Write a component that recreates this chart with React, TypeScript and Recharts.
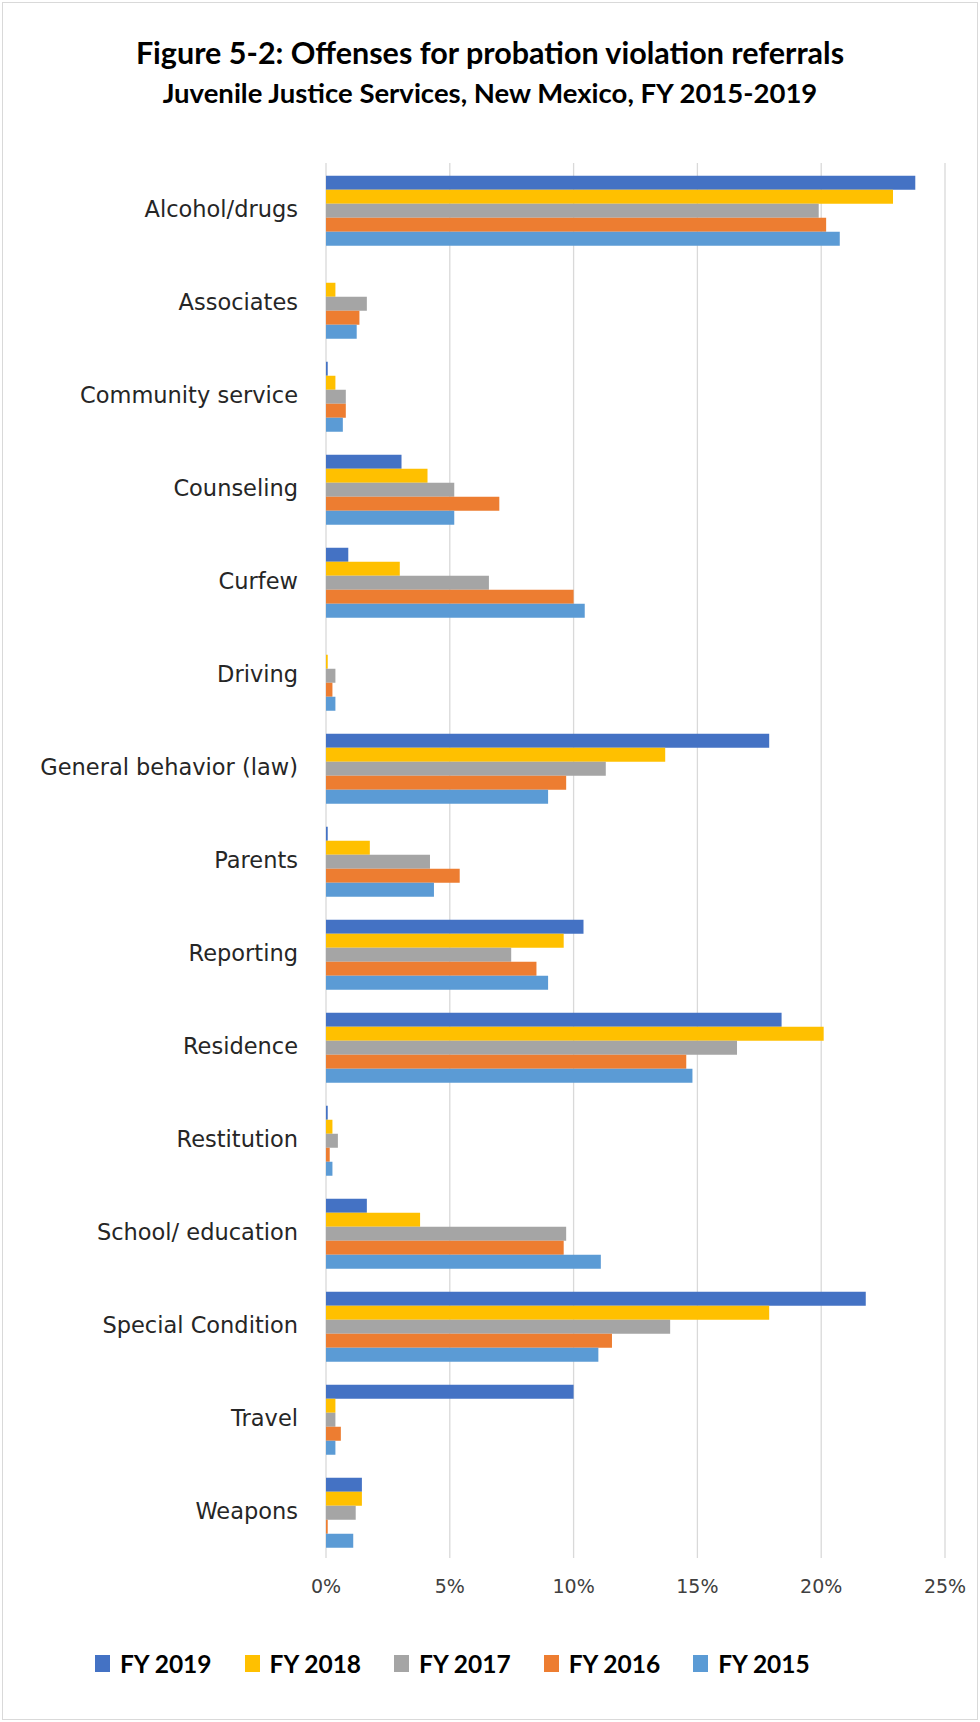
import React from "react";
import { Bar, BarChart, CartesianGrid, XAxis, YAxis } from "recharts";

// Offense categories, top to bottom
const categories = [
  "Alcohol/drugs",
  "Associates",
  "Community service",
  "Counseling",
  "Curfew",
  "Driving",
  "General behavior (law)",
  "Parents",
  "Reporting",
  "Residence",
  "Restitution",
  "School/ education",
  "Special Condition",
  "Travel",
  "Weapons",
];

// share of referrals, in percent
const fy2019 = [23.8, 0, 0.07, 3.05, 0.9, 0, 17.9, 0.07, 10.4, 18.4, 0.07, 1.65, 21.8, 10.0, 1.45];
const fy2018 = [22.9, 0.38, 0.38, 4.1, 2.98, 0.07, 13.7, 1.77, 9.6, 20.1, 0.26, 3.8, 17.9, 0.38, 1.45];
const fy2017 = [19.9, 1.65, 0.8, 5.18, 6.58, 0.38, 11.3, 4.2, 7.48, 16.6, 0.48, 9.7, 13.9, 0.38, 1.2];
const fy2016 = [20.2, 1.35, 0.8, 7.0, 10.0, 0.26, 9.7, 5.4, 8.5, 14.55, 0.15, 9.6, 11.55, 0.6, 0.07];
const fy2015 = [20.75, 1.24, 0.68, 5.18, 10.45, 0.38, 8.97, 4.36, 8.97, 14.8, 0.26, 11.1, 11.0, 0.38, 1.1];

const xTicks = [0, 5, 10, 15, 20, 25];

const series = [
  { key: "fy2019", name: "FY 2019", color: "#4472C4", values: fy2019 },
  { key: "fy2018", name: "FY 2018", color: "#FFC000", values: fy2018 },
  { key: "fy2017", name: "FY 2017", color: "#A5A5A5", values: fy2017 },
  { key: "fy2016", name: "FY 2016", color: "#ED7D31", values: fy2016 },
  { key: "fy2015", name: "FY 2015", color: "#5B9BD5", values: fy2015 },
];

const chartData = categories.map((name, i) => {
  const row: Record<string, string | number> = { name };
  series.forEach((s) => {
    row[s.key] = s.values[i];
  });
  return row;
});

export default function App() {
  return (
    <div
      style={{
        position: "absolute",
        left: 0,
        top: 0,
        width: 980,
        height: 1722,
        background: "#fff",
        fontFamily: "Lato, sans-serif",
      }}
    >
      <div
        style={{
          position: "absolute",
          left: 2,
          top: 2,
          width: 974,
          height: 1716,
          border: "1px solid #d9d9d9",
        }}
      />
      <div
        style={{
          position: "absolute",
          top: 34,
          width: 980,
          textAlign: "center",
          fontWeight: 700,
          fontSize: 30.5,
          lineHeight: 1.2,
          color: "#000",
        }}
      >
        Figure 5-2: Offenses for probation violation referrals
      </div>
      <div
        style={{
          position: "absolute",
          top: 76,
          width: 980,
          textAlign: "center",
          fontWeight: 700,
          fontSize: 27.5,
          lineHeight: 1.2,
          color: "#000",
        }}
      >
        Juvenile Justice Services, New Mexico, FY 2015-2019
      </div>

      <div style={{ position: "absolute", left: 0, top: 0 }}>
        <BarChart
          width={980}
          height={1722}
          data={chartData}
          layout="vertical"
          margin={{ top: 163, right: 35, bottom: 134, left: 0 }}
          barCategoryGap={12.75}
          barGap={0}
        >
          <CartesianGrid horizontal={false} stroke="#d9d9d9" strokeWidth={1.3} />
          <XAxis
            type="number"
            domain={[0, 25]}
            ticks={xTicks}
            tickFormatter={(v: number) => `${v}%`}
            axisLine={false}
            tickLine={false}
            tickSize={0}
            tickMargin={22}
            height={30}
            tick={{ fontSize: 19, fill: "#404040", fontFamily: "DejaVu Sans" }}
          />
          <YAxis
            type="category"
            dataKey="name"
            width={326}
            axisLine={false}
            tickLine={false}
            tickSize={0}
            tickMargin={28}
            interval={0}
            tick={{ fontSize: 22.5, fill: "#262626", fontFamily: "DejaVu Sans" }}
          />
          {series.map((s) => (
            <Bar
              key={s.key}
              dataKey={s.key}
              name={s.name}
              fill={s.color}
              isAnimationActive={false}
            />
          ))}
        </BarChart>
      </div>

      <div
        style={{
          position: "absolute",
          left: 95,
          top: 1646,
          display: "flex",
          alignItems: "center",
          height: 34,
        }}
      >
        {series.map((s) => (
          <div key={s.key} style={{ display: "flex", alignItems: "center", marginRight: 33 }}>
            <span
              style={{
                display: "inline-block",
                width: 15,
                height: 17,
                background: s.color,
                marginRight: 10,
              }}
            />
            <span style={{ fontWeight: 700, fontSize: 24.5, color: "#000" }}>{s.name}</span>
          </div>
        ))}
      </div>
    </div>
  );
}
